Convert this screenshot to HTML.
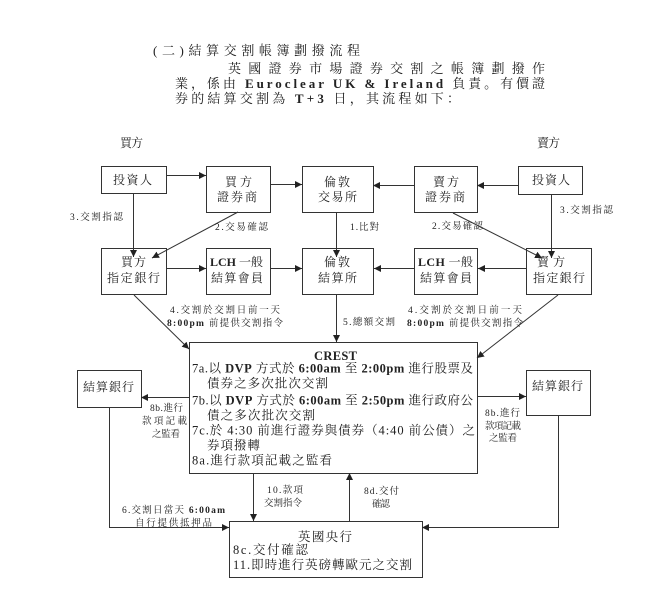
<!DOCTYPE html>
<html><head><meta charset="utf-8"><style>
html,body{margin:0;padding:0;background:#fff;}
svg{display:block;}
.t{font-family:"Liberation Serif","Noto Serif CJK SC",serif;fill:#222;}
.s{font-size:9.5px;}
.m{font-size:12px;}
.b{font-weight:bold;font-family:"Liberation Serif",serif;}
</style></head><body>
<svg width="669" height="589" viewBox="0 0 669 589" xmlns="http://www.w3.org/2000/svg">
<defs>
<marker id="a" markerWidth="8" markerHeight="8" refX="7" refY="3.5" orient="auto" markerUnits="userSpaceOnUse"><path d="M0,0 L7,3.5 L0,7 z" fill="#222"/></marker>
</defs>
<rect width="669" height="589" fill="#fff"/>

<!-- header text -->
<g class="t" style="font-size:13px">
<text x="153" y="55" textLength="207" lengthAdjust="spacing">(二)結算交割帳簿劃撥流程</text>
<text x="228" y="73" textLength="317" lengthAdjust="spacing">英國證券市場證券交割之帳簿劃撥作</text>
<text x="175" y="88" textLength="370" lengthAdjust="spacing">業，係由 <tspan class="b">Euroclear UK &amp; Ireland</tspan> 負責。有價證</text>
<text x="175" y="103" textLength="285" lengthAdjust="spacing">券的結算交割為 <tspan class="b">T+3</tspan> 日，其流程如下：</text>
</g>

<g class="t m">
<text x="120" y="147" textLength="23" lengthAdjust="spacing">買方</text>
<text x="537" y="147" textLength="23" lengthAdjust="spacing">賣方</text>
</g>

<!-- boxes -->
<g fill="#fff" stroke="#333" stroke-width="1">
<rect x="101.5" y="166.5" width="65" height="27"/>
<rect x="206.5" y="166.5" width="64" height="46"/>
<rect x="302.5" y="166.5" width="71" height="46"/>
<rect x="414.5" y="166.5" width="63" height="46"/>
<rect x="518.5" y="166.5" width="64" height="28"/>
<rect x="101.5" y="248.5" width="65" height="46"/>
<rect x="206.5" y="248.5" width="64" height="46"/>
<rect x="302.5" y="248.5" width="71" height="46"/>
<rect x="414.5" y="248.5" width="63" height="46"/>
<rect x="526.5" y="248.5" width="65" height="46"/>
<rect x="189.5" y="342.5" width="288" height="131"/>
<rect x="77.5" y="370.5" width="64" height="37"/>
<rect x="526.5" y="370.5" width="64" height="45"/>
<rect x="229.5" y="521.5" width="193" height="56"/>
</g>

<!-- connectors -->
<g stroke="#333" stroke-width="1" fill="none" marker-end="url(#a)">
<line x1="166" y1="175.5" x2="206" y2="175.5"/>
<line x1="270" y1="184.5" x2="302" y2="184.5"/>
<line x1="518" y1="185.5" x2="477" y2="185.5"/>
<line x1="414" y1="185.5" x2="373" y2="185.5"/>
<line x1="133.5" y1="194" x2="133.5" y2="257"/>
<line x1="238" y1="212" x2="152" y2="258"/>
<line x1="336.5" y1="212" x2="336.5" y2="257"/>
<line x1="453" y1="213" x2="542" y2="258"/>
<line x1="551.5" y1="195" x2="551.5" y2="258"/>
<line x1="166" y1="268.5" x2="206" y2="268.5"/>
<line x1="270" y1="268.5" x2="302" y2="268.5"/>
<line x1="526" y1="268.5" x2="478" y2="268.5"/>
<line x1="414" y1="268.5" x2="374" y2="268.5"/>
<line x1="134" y1="295" x2="189" y2="349"/>
<line x1="558" y1="295" x2="477" y2="358"/>
<line x1="336.5" y1="295" x2="336.5" y2="342"/>
<line x1="189" y1="397.5" x2="141" y2="397.5"/>
<line x1="477" y1="396.5" x2="526" y2="396.5"/>
<polyline points="109.5,407 109.5,527.5 229,527.5"/>
<polyline points="558.5,415 558.5,527.5 422,527.5"/>
<line x1="253.5" y1="473" x2="253.5" y2="521"/>
<line x1="349.5" y1="521" x2="349.5" y2="473"/>
</g>

<!-- box labels -->
<g class="t m">
<text x="113" y="184" textLength="39" lengthAdjust="spacing">投資人</text>
<text x="225" y="186" textLength="27" lengthAdjust="spacing">買方</text>
<text x="217" y="201" textLength="40" lengthAdjust="spacing">證券商</text>
<text x="324" y="186" textLength="26" lengthAdjust="spacing">倫敦</text>
<text x="318" y="201" textLength="39" lengthAdjust="spacing">交易所</text>
<text x="433" y="186" textLength="26" lengthAdjust="spacing">賣方</text>
<text x="425" y="201" textLength="40" lengthAdjust="spacing">證券商</text>
<text x="532" y="184" textLength="38" lengthAdjust="spacing">投資人</text>

<text x="121" y="266" textLength="25" lengthAdjust="spacing">買方</text>
<text x="107" y="282" textLength="53" lengthAdjust="spacing">指定銀行</text>
<text x="210" y="266" textLength="53" lengthAdjust="spacing"><tspan class="b">LCH</tspan> 一般</text>
<text x="211" y="282" textLength="52" lengthAdjust="spacing">結算會員</text>
<text x="324" y="266" textLength="26" lengthAdjust="spacing">倫敦</text>
<text x="318" y="282" textLength="39" lengthAdjust="spacing">結算所</text>
<text x="418" y="266" textLength="55" lengthAdjust="spacing"><tspan class="b">LCH</tspan> 一般</text>
<text x="420" y="282" textLength="52" lengthAdjust="spacing">結算會員</text>
<text x="537" y="266" textLength="28" lengthAdjust="spacing">賣方</text>
<text x="533" y="282" textLength="52" lengthAdjust="spacing">指定銀行</text>

<text x="83" y="391" textLength="51" lengthAdjust="spacing">結算銀行</text>
<text x="532" y="390" textLength="51" lengthAdjust="spacing">結算銀行</text>
</g>

<!-- CREST -->
<g class="t" style="font-size:12.5px">
<text x="314" y="360" class="b" textLength="43" lengthAdjust="spacing">CREST</text>
<text x="192" y="372.5" textLength="281" lengthAdjust="spacing">7a.以 <tspan class="b">DVP</tspan> 方式於 <tspan class="b">6:00am</tspan> 至 <tspan class="b">2:00pm</tspan> 進行股票及</text>
<text x="207" y="387.5" textLength="121" lengthAdjust="spacing">債券之多次批次交割</text>
<text x="192" y="404.5" textLength="281" lengthAdjust="spacing">7b.以 <tspan class="b">DVP</tspan> 方式於 <tspan class="b">6:00am</tspan> 至 <tspan class="b">2:50pm</tspan> 進行政府公</text>
<text x="207" y="419.5" textLength="108" lengthAdjust="spacing">債之多次批次交割</text>
<text x="192" y="434.5" textLength="283" lengthAdjust="spacing">7c.於 4:30 前進行證券與債券（4:40 前公債）之</text>
<text x="207" y="449.5" textLength="53" lengthAdjust="spacing">券項撥轉</text>
<text x="192" y="464.5" textLength="140" lengthAdjust="spacing">8a.進行款項記載之監看</text>
</g>

<!-- BOE -->
<g class="t" style="font-size:12.5px">
<text x="298" y="541" textLength="54" lengthAdjust="spacing">英國央行</text>
<text x="233" y="554" textLength="75" lengthAdjust="spacing">8c.交付確認</text>
<text x="233" y="569" textLength="179" lengthAdjust="spacing">11.即時進行英磅轉歐元之交割</text>
</g>

<!-- small connector labels -->
<g class="t s">
<text x="70" y="220" textLength="53" lengthAdjust="spacing">3.交割指認</text>
<text x="215" y="230" textLength="53" lengthAdjust="spacing">2.交易確認</text>
<text x="350" y="230" textLength="29" lengthAdjust="spacing">1.比對</text>
<text x="432" y="229" textLength="51" lengthAdjust="spacing">2.交易確認</text>
<text x="560" y="213" textLength="53" lengthAdjust="spacing">3.交割指認</text>

<text x="170" y="313" textLength="110" lengthAdjust="spacing">4.交割於交割日前一天</text>
<text x="167" y="326" textLength="116" lengthAdjust="spacing"><tspan class="b">8:00pm</tspan> 前提供交割指令</text>
<text x="408" y="313" textLength="114" lengthAdjust="spacing">4.交割於交割日前一天</text>
<text x="407" y="326" textLength="116" lengthAdjust="spacing"><tspan class="b">8:00pm</tspan> 前提供交割指令</text>
<text x="343" y="325" textLength="52" lengthAdjust="spacing">5.總額交割</text>

<text x="150" y="411" textLength="33" lengthAdjust="spacing">8b.進行</text>
<text x="142" y="424" textLength="45" lengthAdjust="spacing">款項記載</text>
<text x="152" y="437" textLength="28" lengthAdjust="spacing">之監看</text>
<text x="485" y="416" textLength="35" lengthAdjust="spacing">8b.進行</text>
<text x="485" y="429" textLength="36" lengthAdjust="spacing">款項記載</text>
<text x="489" y="441" textLength="28" lengthAdjust="spacing">之監看</text>

<text x="267" y="493" textLength="36" lengthAdjust="spacing">10.款項</text>
<text x="264" y="506" textLength="38" lengthAdjust="spacing">交割指令</text>
<text x="364" y="494" textLength="35" lengthAdjust="spacing">8d.交付</text>
<text x="372" y="507" textLength="18" lengthAdjust="spacing">確認</text>
<text x="122" y="513" textLength="103" lengthAdjust="spacing">6.交割日當天 <tspan class="b">6:00am</tspan></text>
<text x="135" y="526" textLength="77" lengthAdjust="spacing">自行提供抵押品</text>
</g>
</svg>
</body></html>
